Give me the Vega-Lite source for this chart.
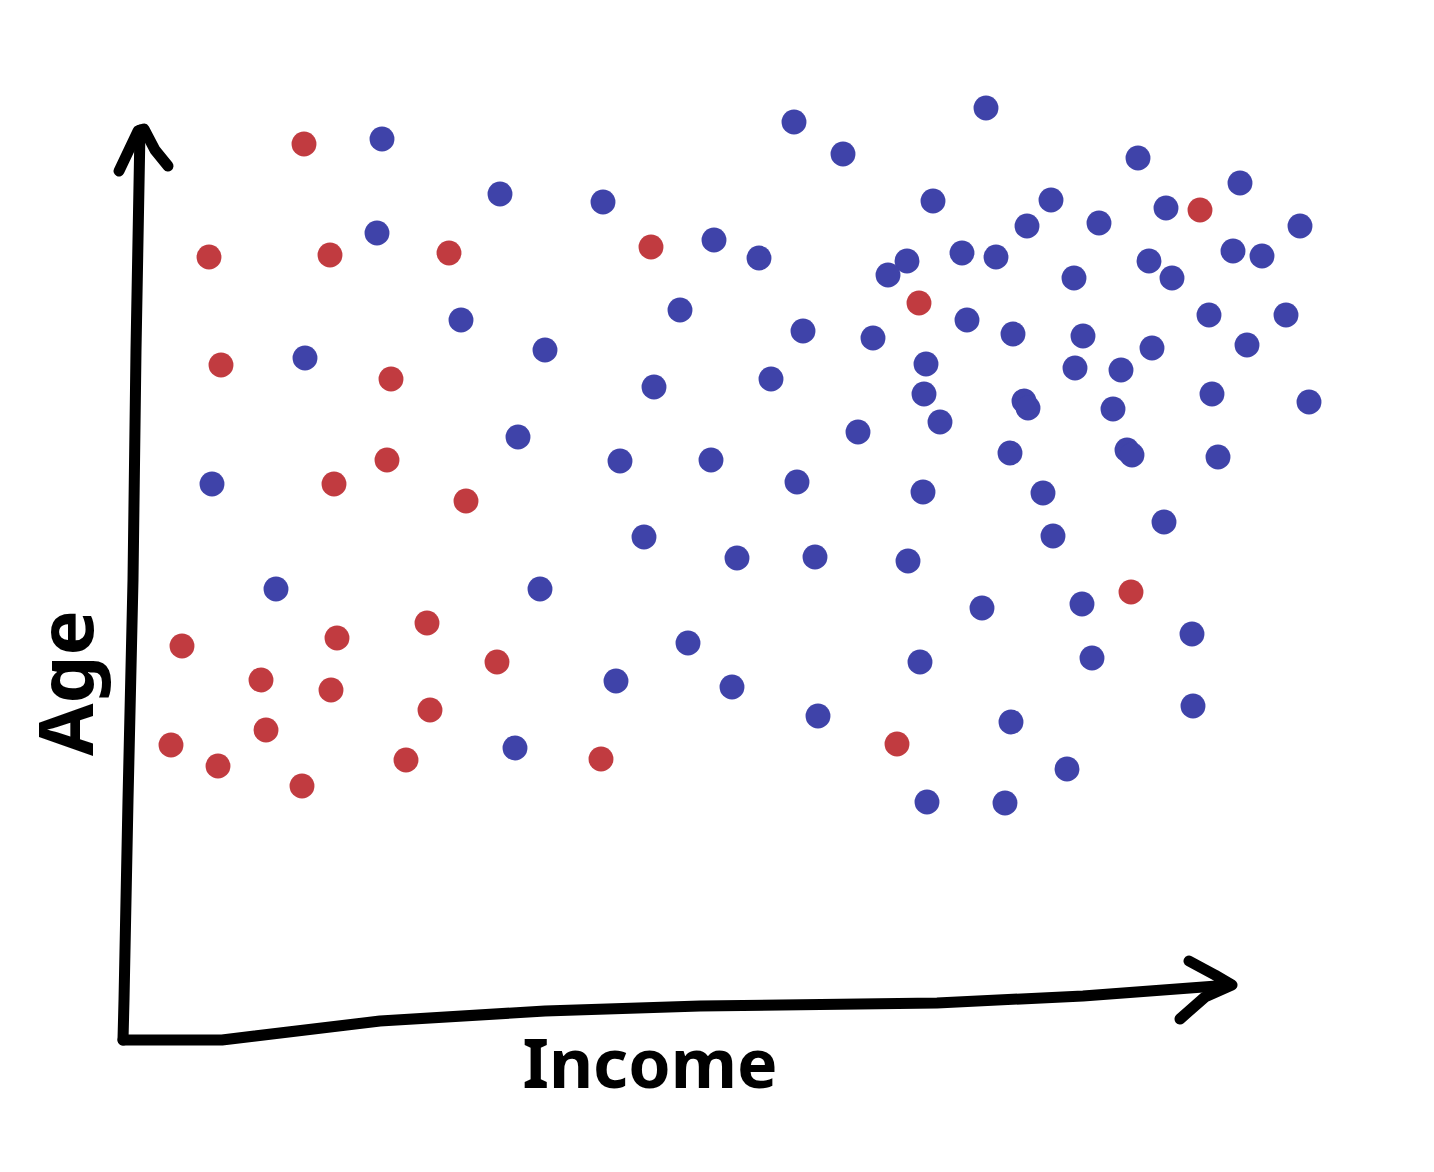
{
  "$schema": "https://vega.github.io/schema/vega-lite/v6.json",
  "autosize": {"type": "fit", "contains": "padding"},
  "width": 1434,
  "height": 1172,
  "padding": 0,
  "background": "white",
  "config": {"view": {"stroke": null}},
  "datasets": {
    "points": [
      {"income": 304, "age": 144, "group": "red"},
      {"income": 209, "age": 257, "group": "red"},
      {"income": 330, "age": 255, "group": "red"},
      {"income": 449, "age": 253, "group": "red"},
      {"income": 651, "age": 247, "group": "red"},
      {"income": 1200, "age": 210, "group": "red"},
      {"income": 919, "age": 303, "group": "red"},
      {"income": 221, "age": 365, "group": "red"},
      {"income": 391, "age": 379, "group": "red"},
      {"income": 387, "age": 460, "group": "red"},
      {"income": 334, "age": 484, "group": "red"},
      {"income": 466, "age": 501, "group": "red"},
      {"income": 182, "age": 646, "group": "red"},
      {"income": 337, "age": 638, "group": "red"},
      {"income": 427, "age": 623, "group": "red"},
      {"income": 261, "age": 680, "group": "red"},
      {"income": 331, "age": 690, "group": "red"},
      {"income": 497, "age": 662, "group": "red"},
      {"income": 430, "age": 710, "group": "red"},
      {"income": 266, "age": 730, "group": "red"},
      {"income": 171, "age": 745, "group": "red"},
      {"income": 218, "age": 766, "group": "red"},
      {"income": 302, "age": 786, "group": "red"},
      {"income": 406, "age": 760, "group": "red"},
      {"income": 601, "age": 759, "group": "red"},
      {"income": 897, "age": 744, "group": "red"},
      {"income": 1131, "age": 592, "group": "red"},
      {"income": 382, "age": 139, "group": "blue"},
      {"income": 500, "age": 194, "group": "blue"},
      {"income": 377, "age": 233, "group": "blue"},
      {"income": 461, "age": 320, "group": "blue"},
      {"income": 305, "age": 358, "group": "blue"},
      {"income": 545, "age": 350, "group": "blue"},
      {"income": 518, "age": 437, "group": "blue"},
      {"income": 794, "age": 122, "group": "blue"},
      {"income": 843, "age": 154, "group": "blue"},
      {"income": 603, "age": 202, "group": "blue"},
      {"income": 714, "age": 240, "group": "blue"},
      {"income": 759, "age": 258, "group": "blue"},
      {"income": 933, "age": 201, "group": "blue"},
      {"income": 907, "age": 261, "group": "blue"},
      {"income": 888, "age": 275, "group": "blue"},
      {"income": 680, "age": 310, "group": "blue"},
      {"income": 803, "age": 331, "group": "blue"},
      {"income": 873, "age": 338, "group": "blue"},
      {"income": 926, "age": 364, "group": "blue"},
      {"income": 924, "age": 394, "group": "blue"},
      {"income": 940, "age": 422, "group": "blue"},
      {"income": 654, "age": 387, "group": "blue"},
      {"income": 771, "age": 379, "group": "blue"},
      {"income": 858, "age": 432, "group": "blue"},
      {"income": 620, "age": 461, "group": "blue"},
      {"income": 711, "age": 460, "group": "blue"},
      {"income": 986, "age": 108, "group": "blue"},
      {"income": 1138, "age": 158, "group": "blue"},
      {"income": 1240, "age": 183, "group": "blue"},
      {"income": 1051, "age": 200, "group": "blue"},
      {"income": 1027, "age": 226, "group": "blue"},
      {"income": 1099, "age": 223, "group": "blue"},
      {"income": 1166, "age": 208, "group": "blue"},
      {"income": 1300, "age": 226, "group": "blue"},
      {"income": 962, "age": 253, "group": "blue"},
      {"income": 996, "age": 257, "group": "blue"},
      {"income": 1074, "age": 278, "group": "blue"},
      {"income": 1149, "age": 261, "group": "blue"},
      {"income": 1172, "age": 278, "group": "blue"},
      {"income": 1233, "age": 251, "group": "blue"},
      {"income": 1262, "age": 256, "group": "blue"},
      {"income": 967, "age": 320, "group": "blue"},
      {"income": 1013, "age": 334, "group": "blue"},
      {"income": 1083, "age": 336, "group": "blue"},
      {"income": 1209, "age": 315, "group": "blue"},
      {"income": 1286, "age": 315, "group": "blue"},
      {"income": 1075, "age": 368, "group": "blue"},
      {"income": 1121, "age": 370, "group": "blue"},
      {"income": 1152, "age": 348, "group": "blue"},
      {"income": 1247, "age": 345, "group": "blue"},
      {"income": 1024, "age": 401, "group": "blue"},
      {"income": 1028, "age": 408, "group": "blue"},
      {"income": 1113, "age": 409, "group": "blue"},
      {"income": 1212, "age": 394, "group": "blue"},
      {"income": 1309, "age": 402, "group": "blue"},
      {"income": 1010, "age": 453, "group": "blue"},
      {"income": 1127, "age": 450, "group": "blue"},
      {"income": 1132, "age": 455, "group": "blue"},
      {"income": 1218, "age": 457, "group": "blue"},
      {"income": 212, "age": 484, "group": "blue"},
      {"income": 276, "age": 589, "group": "blue"},
      {"income": 540, "age": 589, "group": "blue"},
      {"income": 515, "age": 748, "group": "blue"},
      {"income": 797, "age": 482, "group": "blue"},
      {"income": 923, "age": 492, "group": "blue"},
      {"income": 644, "age": 537, "group": "blue"},
      {"income": 737, "age": 558, "group": "blue"},
      {"income": 815, "age": 557, "group": "blue"},
      {"income": 908, "age": 561, "group": "blue"},
      {"income": 688, "age": 643, "group": "blue"},
      {"income": 616, "age": 681, "group": "blue"},
      {"income": 732, "age": 687, "group": "blue"},
      {"income": 920, "age": 662, "group": "blue"},
      {"income": 818, "age": 716, "group": "blue"},
      {"income": 927, "age": 802, "group": "blue"},
      {"income": 1043, "age": 493, "group": "blue"},
      {"income": 1164, "age": 522, "group": "blue"},
      {"income": 1053, "age": 536, "group": "blue"},
      {"income": 982, "age": 608, "group": "blue"},
      {"income": 1082, "age": 604, "group": "blue"},
      {"income": 1192, "age": 634, "group": "blue"},
      {"income": 1092, "age": 658, "group": "blue"},
      {"income": 1193, "age": 706, "group": "blue"},
      {"income": 1011, "age": 722, "group": "blue"},
      {"income": 1067, "age": 769, "group": "blue"},
      {"income": 1005, "age": 803, "group": "blue"}
    ],
    "strokes": [
      {"seg": "yaxis", "ord": 1, "income": 140, "age": 130},
      {"seg": "yaxis", "ord": 2, "income": 136, "age": 350},
      {"seg": "yaxis", "ord": 3, "income": 133, "age": 580},
      {"seg": "yaxis", "ord": 4, "income": 128, "age": 800},
      {"seg": "yaxis", "ord": 5, "income": 124, "age": 1000},
      {"seg": "yaxis", "ord": 6, "income": 123, "age": 1040},
      {"seg": "xaxis", "ord": 1, "income": 123, "age": 1040},
      {"seg": "xaxis", "ord": 2, "income": 222, "age": 1040},
      {"seg": "xaxis", "ord": 3, "income": 380, "age": 1021},
      {"seg": "xaxis", "ord": 4, "income": 545, "age": 1011},
      {"seg": "xaxis", "ord": 5, "income": 700, "age": 1006},
      {"seg": "xaxis", "ord": 6, "income": 937, "age": 1003},
      {"seg": "xaxis", "ord": 7, "income": 1083, "age": 996},
      {"seg": "xaxis", "ord": 8, "income": 1230, "age": 985},
      {"seg": "yhead", "ord": 1, "income": 119, "age": 171},
      {"seg": "yhead", "ord": 2, "income": 138, "age": 131},
      {"seg": "yhead", "ord": 3, "income": 144, "age": 129},
      {"seg": "yhead", "ord": 4, "income": 155, "age": 150},
      {"seg": "yhead", "ord": 5, "income": 168, "age": 166},
      {"seg": "xhead", "ord": 1, "income": 1189, "age": 961},
      {"seg": "xhead", "ord": 2, "income": 1215, "age": 975},
      {"seg": "xhead", "ord": 3, "income": 1232, "age": 985},
      {"seg": "xhead", "ord": 4, "income": 1205, "age": 997},
      {"seg": "xhead", "ord": 5, "income": 1180, "age": 1019}
    ],
    "labels": [
      {"label": "Income", "income": 650, "age": 1068, "dir": "h"},
      {"label": "Age", "income": 70, "age": 683, "dir": "v"}
    ]
  },
  "encoding": {
    "x": {"field": "income", "type": "quantitative", "scale": {"domain": [0, 1434], "nice": false, "zero": false}, "axis": null},
    "y": {"field": "age", "type": "quantitative", "scale": {"domain": [1172, 0], "nice": false, "zero": false}, "axis": null}
  },
  "layer": [
    {
      "data": {"name": "strokes"},
      "mark": {"type": "line", "color": "black", "strokeWidth": 11, "strokeCap": "round", "strokeJoin": "round", "interpolate": "linear"},
      "encoding": {
        "detail": {"field": "seg", "type": "nominal"},
        "order": {"field": "ord", "type": "quantitative"}
      }
    },
    {
      "data": {"name": "points"},
      "mark": {"type": "circle", "size": 620, "opacity": 1},
      "encoding": {
        "color": {"field": "group", "type": "nominal", "scale": {"domain": ["red", "blue"], "range": ["#C13B40", "#3F43A9"]}, "legend": null}
      }
    },
    {
      "data": {"name": "labels"},
      "transform": [{"filter": "datum.dir == 'h'"}],
      "mark": {"type": "text", "font": "Noto Sans", "fontSize": 68, "fontWeight": "bold", "color": "black", "align": "center", "baseline": "middle"},
      "encoding": {"text": {"field": "label"}}
    },
    {
      "data": {"name": "labels"},
      "transform": [{"filter": "datum.dir == 'v'"}],
      "mark": {"type": "text", "font": "Noto Sans", "fontSize": 76, "fontWeight": "bold", "color": "black", "align": "center", "baseline": "middle", "angle": 270},
      "encoding": {"text": {"field": "label"}}
    }
  ]
}
